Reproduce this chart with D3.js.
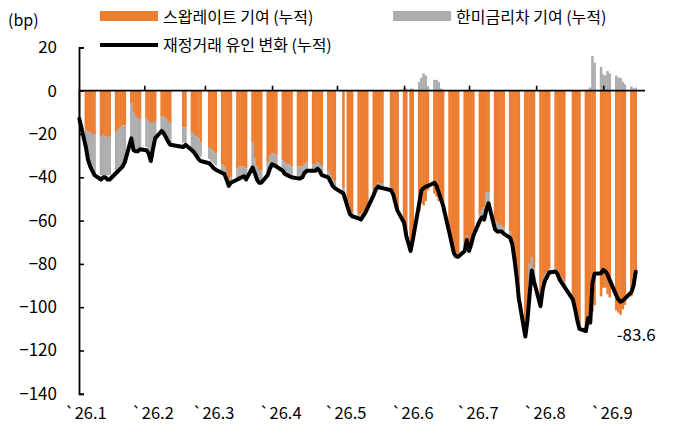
<!DOCTYPE html>
<html>
<head>
<meta charset="utf-8">
<script src="https://cdn.jsdelivr.net/npm/d3@7"></script>
<style>
  body { margin: 0; background: #fff; }
  text { font-family: "Noto Sans CJK KR", "Noto Sans", sans-serif; }
</style>
</head>
<body>
<svg id="chart" width="676" height="444"></svg>
<script>
// business days, 2026
var dates = [
  "2026-01-02","2026-01-05","2026-01-06","2026-01-07","2026-01-08","2026-01-09","2026-01-12","2026-01-13","2026-01-14","2026-01-15","2026-01-16",
  "2026-01-19","2026-01-20","2026-01-21","2026-01-22","2026-01-23","2026-01-26","2026-01-27","2026-01-28","2026-01-29","2026-01-30",
  "2026-02-02","2026-02-03","2026-02-04","2026-02-05","2026-02-06","2026-02-09","2026-02-10","2026-02-11","2026-02-12","2026-02-13",
  "2026-02-19","2026-02-20","2026-02-23","2026-02-24","2026-02-25","2026-02-26","2026-02-27",
  "2026-03-03","2026-03-04","2026-03-05","2026-03-06","2026-03-09","2026-03-10","2026-03-11","2026-03-12","2026-03-13",
  "2026-03-16","2026-03-17","2026-03-18","2026-03-19","2026-03-20","2026-03-23","2026-03-24","2026-03-25","2026-03-26","2026-03-27","2026-03-30","2026-03-31",
  "2026-04-01","2026-04-02","2026-04-03","2026-04-06","2026-04-07","2026-04-08","2026-04-09","2026-04-10","2026-04-13","2026-04-14","2026-04-15","2026-04-16","2026-04-17",
  "2026-04-20","2026-04-21","2026-04-22","2026-04-23","2026-04-24","2026-04-27","2026-04-28","2026-04-29","2026-04-30",
  "2026-05-04","2026-05-06","2026-05-07","2026-05-08","2026-05-11","2026-05-12","2026-05-13","2026-05-14","2026-05-15",
  "2026-05-18","2026-05-19","2026-05-20","2026-05-21","2026-05-22","2026-05-26","2026-05-27","2026-05-28","2026-05-29",
  "2026-06-01","2026-06-02","2026-06-04","2026-06-05","2026-06-08","2026-06-09","2026-06-10","2026-06-11","2026-06-12",
  "2026-06-15","2026-06-16","2026-06-17","2026-06-18","2026-06-19","2026-06-22","2026-06-23","2026-06-24","2026-06-25","2026-06-26","2026-06-29","2026-06-30",
  "2026-07-01","2026-07-02","2026-07-03","2026-07-06","2026-07-07","2026-07-08","2026-07-09","2026-07-10","2026-07-13","2026-07-14","2026-07-15","2026-07-16","2026-07-17",
  "2026-07-20","2026-07-21","2026-07-22","2026-07-23","2026-07-24","2026-07-27","2026-07-28","2026-07-29","2026-07-30","2026-07-31",
  "2026-08-03","2026-08-04","2026-08-05","2026-08-06","2026-08-07","2026-08-10","2026-08-11","2026-08-12","2026-08-13","2026-08-14",
  "2026-08-18","2026-08-19","2026-08-20","2026-08-21","2026-08-24","2026-08-25","2026-08-26","2026-08-27","2026-08-28","2026-08-31",
  "2026-09-01","2026-09-02","2026-09-03","2026-09-04","2026-09-07","2026-09-08","2026-09-09","2026-09-10","2026-09-11","2026-09-14","2026-09-15","2026-09-16"
];

// 스왑레이트 기여 (누적)
var swap = [
  -3,-18,-19,-19,-20,-20,-21,-20,-21,-22,-21,
  -19,-18,-17,-16,-16,-6,-10,-12,-13,-13,
  -13,-14,-15,-15,-14,-12,-12,-13,-14,-15,
  -17,-17,-19,-20,-21,-22,-24,
  -26,-27,-28,-29,-34,-35,-38,-41,-40,
  -36,-35,-35,-35,-36,-24,-31,-35,-37,-37,-33,-30,
  -29,-29,-30,-32,-33,-34,-34,-35,-35,-35,-35,-34,-33,
  -34,-34,-33,-34,-35,-37,-39,-41,-42,
  -45,-51,-55,-56,-57,-57,-56,-55,-53,
  -46,-44,-42.5,-43,-43,-44.5,-46.5,-50.5,-54,
  -62,-68,-75,-70,-56,-52,-53,-51,-46,
  -47.5,-49,-51,-51,-53,-65,-69,-73,-75,-75,-72,-67,
  -72,-70,-66,-57,-55,-54,-47,-47,-60,-61,-62,-62,-63,
  -65,-69,-76,-84,-94,-108,-102,-80,-77,-82,
  -97,-89,-85,-84,-82,-82,-83,-85,-87,-88,
  -96,-100,-105,-109,-110,-104,-108,-102,-99,-95,
  -91,-91,-94,-95.5,-101.5,-102.5,-103.5,-101,-99,-95,-91,-85
];

// 한미금리차 기여 (누적)
var rateGap = [
  -10,-8,-12,-15,-16,-18,-18,-19,-18,-17,-18,
  -18,-18,-18,-18,-16,-18,-17,-15,-14,-13,
  -13,-14,-15,-12,-8,-6,-7,-8,-8,-9,
  -7,-7,-9,-8,-8.5,-8,-6.5,
  -5.5,-5.5,-5.5,-5.5,-4,-3.5,-3,-3,-2.5,
  -5,-5,-5,-4.5,-5,-11.5,-7,-6,-5.5,-5.5,-6,-6,
  -5,-5.5,-5,-5,-5.5,-5,-5.5,-5,-5.5,-5.5,-5,-4,-4,
  -3,-3,-3,-3,-4,-3,-3,-3,-3,
  -2.5,-3,-2,-2,-2,-2.5,-2,-1.5,-1.5,
  -2,-1.5,-1.8,-1.8,-2,-1.5,-1.5,-1.5,-1.5,
  1,1,1,1,4,6,8,7,2,
  5,5,4,1,0.5,-1,-1.5,-2,-1.5,-1.7,-2,-2,
  -2,-1,-1,-3,-3,-5,-8,-5,-4,-4,-3,-3,-3,
  -3,-2,-2,-2,-2,-5,-4,-8,-6,-5,
  -2,-3,-3,-2,-2,-1,-2,-2,-2,-2,
  -0.5,-1,-1,-1,-1,0.5,1.5,16,13,11,
  7.5,7,9,8,7,6,6,4,3,2,1,1.4
];

// 재정거래 유인 변화 (누적)
var flow = [
  -13,-26,-32,-35,-37,-39,-41,-40,-40,-41,-41,
  -38,-37,-36,-35,-33,-22,-27.5,-28,-28,-27,
  -27.5,-29,-32.5,-27,-22,-18.6,-19.7,-21.5,-23.5,-25,
  -26,-25,-27.5,-28.5,-30,-31.5,-32.5,
  -33.5,-34.5,-35.8,-36.5,-38,-38.5,-41,-44,-42.5,
  -41,-40.5,-40,-39.5,-41,-35.5,-38,-41,-42.5,-42.5,-39,-36,
  -34,-34.5,-35,-37,-38.5,-39,-39.5,-40,-40.5,-40.5,-40,-38,-37,
  -37,-37,-36,-37,-39,-40,-42,-44,-45,
  -47.5,-54,-57,-58,-59,-59.5,-58,-56.5,-54.5,
  -48,-45.5,-44.3,-44.8,-45,-46,-48,-52,-55.5,
  -61,-67,-74,-69,-52,-46,-45,-44.3,-44,
  -42.5,-44,-47,-50,-53,-66,-70.5,-75,-76.5,-76.7,-74,-69,
  -74,-71,-67,-60,-58.5,-59.5,-55,-52,-64,-65,-65,-65,-66,
  -68,-71,-78,-86,-96,-113.5,-106,-94,-83,-88,
  -99.5,-92,-88,-86,-84,-83.5,-85,-87.5,-89,-90.5,
  -96.5,-101,-106,-110,-111,-105,-107,-89,-84.5,-84.3,
  -82.8,-83.5,-85,-87.5,-94.5,-96.5,-97.5,-97,-96,-93,-90,-83.6
];

var yTicks = [20, 0, -20, -40, -60, -80, -100, -120, -140];
var monthLabels = ["`26.1","`26.2","`26.3","`26.4","`26.5","`26.6","`26.7","`26.8","`26.9"];
var legendNames = ["스왑레이트 기여 (누적)", "한미금리차 기여 (누적)", "재정거래 유인 변화 (누적)"];
var lastLabel = "-83.6";

var orange = "#ED7D31", grey = "#ADADAD";

var parse = d3.timeParse("%Y-%m-%d");
var data = dates.map(function(d, i) {
  return {date: parse(d), s: swap[i], r: rateGap[i], v: flow[i]};
});

var svg = d3.select("#chart");

//scales
var x = d3.scaleTime()
          .domain([new Date(2026, 0, 1), new Date(2026, 9, 1)])
          .range([77.2, 668.2]);
var y = d3.scaleLinear()
          .domain([-140, 20])
          .range([393.8, 47.4]);
var dayW = x(new Date(2026, 0, 2)) - x(new Date(2026, 0, 1));

//bars
svg.append("g").selectAll("rect")
   .data(data)
   .enter()
   .append("rect")
   .attr("x", function(d){ return x(d.date) - dayW / 2 - 0.2; })
   .attr("width", dayW + 0.4)
   .attr("y", y(0))
   .attr("height", function(d){ return y(d.s) - y(0); })
   .attr("fill", orange);

svg.append("g").selectAll("rect")
   .data(data)
   .enter()
   .append("rect")
   .attr("x", function(d){ return x(d.date) - dayW / 2 - 0.2; })
   .attr("width", dayW + 0.4)
   .attr("y", function(d){ return d.r < 0 ? y(d.s) : y(d.r); })
   .attr("height", function(d){ return Math.abs(y(d.r) - y(0)); })
   .attr("fill", grey);

//axes
var months = d3.timeMonth.range(new Date(2026, 0, 1), new Date(2026, 8, 2));

svg.append("line")
   .attr("x1", 79).attr("x2", 645)
   .attr("y1", y(0)).attr("y2", y(0))
   .attr("stroke", "#000").attr("stroke-width", 1.8);

var topTicks = svg.append("g")
   .attr("transform", "translate(0," + y(0) + ")")
   .call(d3.axisTop(x).tickValues(months.slice(1)).tickSize(5).tickFormat(""));
topTicks.select(".domain").remove();
topTicks.selectAll("line").attr("stroke-width", 1.6);

var xLabels = svg.append("g")
   .attr("transform", "translate(0,404)")
   .call(d3.axisBottom(x).tickValues(months).tickSize(0)
           .tickFormat(function(d, i){ return monthLabels[i]; }));
xLabels.select(".domain").remove();
xLabels.selectAll("text")
   .attr("dx", 8)
   .attr("font-size", 16.5)
   .attr("fill", "#000")
   .style("font-family", "'Noto Sans CJK KR', sans-serif");

var yAxis = svg.append("g")
   .attr("transform", "translate(79,0)")
   .call(d3.axisLeft(y).tickValues(yTicks).tickSizeInner(-5).tickSizeOuter(-5).tickPadding(22));
yAxis.select(".domain").attr("stroke-width", 1.8);
yAxis.selectAll("line").attr("stroke-width", 1.6);
yAxis.selectAll("text")
   .attr("font-size", 17)
   .attr("fill", "#000")
   .style("font-family", "'Noto Sans CJK KR', sans-serif");

//line
var line = d3.line()
   .x(function(d){ return x(d.date); })
   .y(function(d){ return y(d.v); });

svg.append("path")
   .datum(data)
   .attr("d", line)
   .attr("fill", "none")
   .attr("stroke", "#000")
   .attr("stroke-width", 4)
   .attr("stroke-linejoin", "round")
   .attr("stroke-linecap", "round");

var last = data[data.length - 1];
svg.append("text")
   .attr("x", x(last.date) - 19)
   .attr("y", 341)
   .attr("font-size", 17)
   .text(lastLabel);

//legend
svg.append("text").attr("x", 8).attr("y", 26).attr("font-size", 16).text("(bp)");

svg.append("rect").attr("x", 100).attr("y", 11).attr("width", 58).attr("height", 10).attr("fill", orange);
svg.append("text").attr("x", 163).attr("y", 23).attr("font-size", 16).text(legendNames[0]);

svg.append("rect").attr("x", 393).attr("y", 11).attr("width", 58).attr("height", 10).attr("fill", grey);
svg.append("text").attr("x", 456).attr("y", 23).attr("font-size", 16).text(legendNames[1]);

svg.append("line").attr("x1", 100).attr("x2", 158).attr("y1", 45).attr("y2", 45)
   .attr("stroke", "#000").attr("stroke-width", 4);
svg.append("text").attr("x", 163).attr("y", 51).attr("font-size", 16).text(legendNames[2]);
</script>
</body>
</html>
